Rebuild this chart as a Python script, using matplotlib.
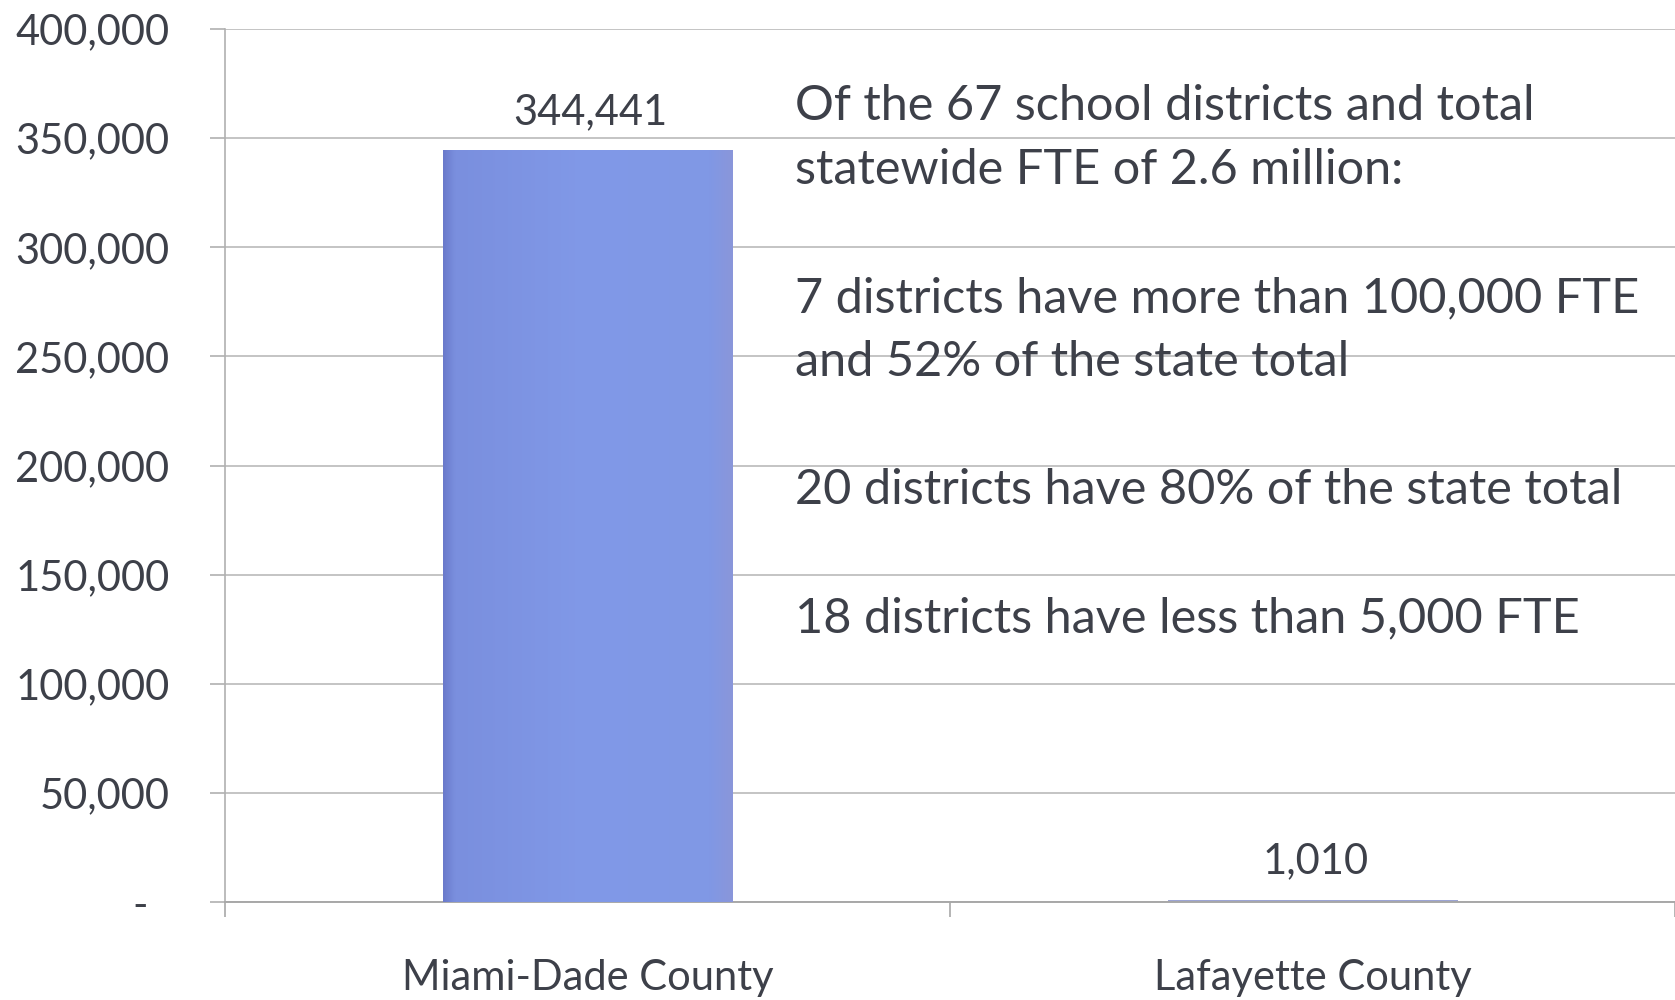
import matplotlib
matplotlib.use("Agg")
import matplotlib.pyplot as plt
import numpy as np
from matplotlib.colors import LinearSegmentedColormap
from matplotlib.ticker import FuncFormatter

# Full-time-equivalent students, largest vs. smallest district
counties = ["Miami-Dade County", "Lafayette County"]
fte = [344441, 1010]
bar_labels = ["344,441", "1,010"]
y_ticks = [0, 50000, 100000, 150000, 200000, 250000, 300000, 350000, 400000]
notes = [
    "Of the 67 school districts and total",
    "statewide FTE of 2.6 million:",
    "",
    "7 districts have more than 100,000 FTE",
    "and 52% of the state total",
    "",
    "20 districts have 80% of the state total",
    "",
    "18 districts have less than 5,000 FTE",
]

TEXT = "#3d4049"
GRID = "#c4c4c4"
plt.rcParams["font.family"] = ["Lato", "DejaVu Sans"]

W, H = 1675, 1000
fig = plt.figure(figsize=(W / 100, H / 100), dpi=100)
ax = fig.add_axes([225 / W, 0.098, 1450 / W, 0.873])

x = np.arange(len(counties))
bars = ax.bar(x, fte, width=0.4, color=["#8199e8", "#9ca4d4"], zorder=2,
              linewidth=0)

# soft horizontal shading across the tall bar
shade = LinearSegmentedColormap.from_list(
    "shade", [(0.0, "#6a7acb"), (0.04, "#7a8fde"), (0.5, "#8199e8"),
              (0.92, "#8098e5"), (1.0, "#8a96da")])
b = bars[0]
img = ax.imshow(np.linspace(0, 1, 256)[None, :], cmap=shade, aspect="auto",
                extent=(b.get_x(), b.get_x() + b.get_width(), 0, b.get_height()),
                zorder=3, interpolation="bilinear")
img.set_clip_path(b)

for xi, v, lab in zip(x, fte, bar_labels):
    ax.annotate(lab, (xi, v), xytext=(2, 14), textcoords="offset points",
                ha="center", va="bottom", fontsize=30, color=TEXT)

ax.set_xlim(-0.5, 1.5)
ax.set_ylim(0, 400000)
ax.set_yticks(y_ticks)
ax.yaxis.set_major_formatter(
    FuncFormatter(lambda v, p: "-  " if v == 0 else f"{int(v):,}"))
ax.set_xticks([-0.5, 0.5, 1.5], minor=False)
ax.set_xticklabels(["", "", ""])
ax.set_xticks(x, minor=True)
ax.set_xticklabels(counties, minor=True)
ax.tick_params(axis="x", which="minor", length=0, pad=41, labelsize=30,
               labelcolor=TEXT)
ax.tick_params(axis="x", which="major", length=11, width=1.2, color="#a8a8a8",
               direction="out")
ax.tick_params(axis="y", length=11, width=1.2, color="#b0b0b0", pad=29,
               labelsize=30, labelcolor=TEXT)

ax.grid(axis="y", color=GRID, linewidth=1.4, zorder=0)
ax.set_axisbelow(True)
for s in ["top", "right"]:
    ax.spines[s].set_visible(False)
ax.spines["left"].set_color("#b0b0b0")
ax.spines["left"].set_linewidth(1.2)
ax.spines["bottom"].set_color("#a8a8a8")
ax.spines["bottom"].set_linewidth(1.4)

# side notes, one line every 64 px
for i, line in enumerate(notes):
    if line:
        fig.text(795 / W, 1 - (106 + 64 * i) / H, line, ha="left",
                 va="center", fontsize=35, color=TEXT)

fig.savefig("out.png", dpi=100, facecolor="white")
